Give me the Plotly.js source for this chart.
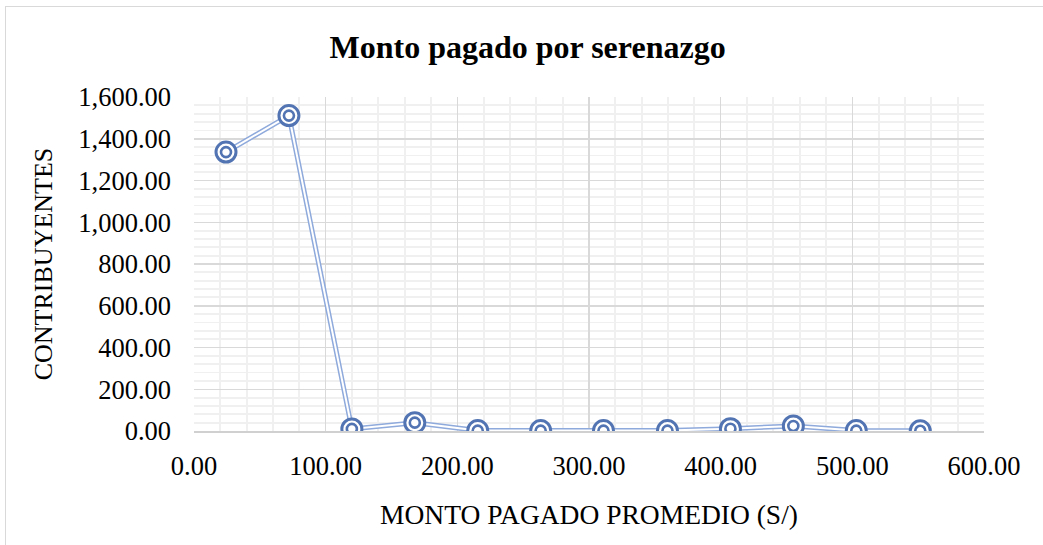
<!DOCTYPE html>
<html>
<head>
<meta charset="utf-8">
<script src="https://cdn.plot.ly/plotly-3.0.1.min.js"></script>
<style>
html, body { margin:0; padding:0; background:#fff; overflow:hidden; }
#chart { position:absolute; left:0; top:0; width:1043px; height:545px; }
#frame { position:absolute; left:5px; top:6px; width:2000px; height:2000px;
  border-left:1.5px solid #d9d9d9; border-top:1.5px solid #d9d9d9; pointer-events:none; }
</style>
</head>
<body>
<div id="chart"></div>
<div id="frame"></div>
<script>
// Data
const montoPromedio = [24.3, 72.1, 119.9, 167.7, 215.5, 263.3, 311.0, 359.6, 407.4, 455.2, 503.0, 551.6];
const contribuyentes = [1336, 1511, 10, 40, 2, 2, 2, 2, 11, 24, 2, 1];

const chartTitle = 'Monto pagado por serenazgo';
const xTitle = 'MONTO PAGADO PROMEDIO (S/)';
const yTitle = 'CONTRIBUYENTES';

const lineColor = '#8EA9DB';
const markerColor = '#5274B2';
const serif = '"Liberation Serif", "Times New Roman", serif';

const traces = [
  { x: montoPromedio, y: contribuyentes, mode: 'lines', type: 'scatter',
    line: { color: lineColor, width: 5 }, hoverinfo: 'skip', showlegend: false },
  { x: montoPromedio, y: contribuyentes, mode: 'lines', type: 'scatter',
    line: { color: '#ffffff', width: 2 }, hoverinfo: 'skip', showlegend: false },
  { x: montoPromedio, y: contribuyentes, mode: 'markers', type: 'scatter',
    marker: { symbol: 'circle', size: 20, color: 'rgba(255,255,255,1)',
      line: { color: markerColor, width: 3 } }, showlegend: false },
  { x: montoPromedio, y: contribuyentes, mode: 'markers', type: 'scatter',
    marker: { symbol: 'circle-open', size: 10, color: markerColor,
      line: { color: markerColor, width: 2.6 } }, showlegend: false }
];

const layout = {
  width: 1043, height: 545,
  margin: { l: 194, r: 58.5, t: 97, b: 114 },
  paper_bgcolor: '#ffffff', plot_bgcolor: '#ffffff',
  font: { family: serif, color: '#000000', size: 27 },
  title: { text: '<b>' + chartTitle + '</b>', font: { family: serif, size: 32, color: '#000' },
    xref: 'container', yref: 'container', x: 0.5058, xanchor: 'center', y: 1 - 47/545, yanchor: 'middle' },
  xaxis: {
    range: [0, 600], dtick: 100, tick0: 0, tickformat: '.2f',
    showgrid: true, gridcolor: '#d9d9d9', gridwidth: 1.5,
    minor: { dtick: 20, showgrid: true, gridcolor: '#f0f0f0', gridwidth: 1.8 },
    zeroline: false, showline: true, linecolor: '#d0d0d0', linewidth: 1.5,
    ticks: '', ticklabelstandoff: 11,
    tickfont: { family: serif, size: 26.5, color: '#000' },
    title: { text: xTitle, font: { family: serif, size: 27.5, color: '#000' }, standoff: 24 },
    fixedrange: true
  },
  yaxis: {
    range: [0, 1600], dtick: 200, tick0: 0, tickformat: ',.2f',
    showgrid: true, gridcolor: '#d9d9d9', gridwidth: 1.5,
    minor: { dtick: 40, showgrid: true, gridcolor: '#f0f0f0', gridwidth: 1.8 },
    zeroline: false, showline: false,
    ticks: '', ticklabelstandoff: 22,
    tickfont: { family: serif, size: 26.5, color: '#000' },
    title: { text: yTitle, font: { family: serif, size: 26, color: '#000' }, standoff: 18 },
    fixedrange: true
  }
};

Plotly.newPlot('chart', traces, layout, { displayModeBar: false, staticPlot: true });
</script>
</body>
</html>
